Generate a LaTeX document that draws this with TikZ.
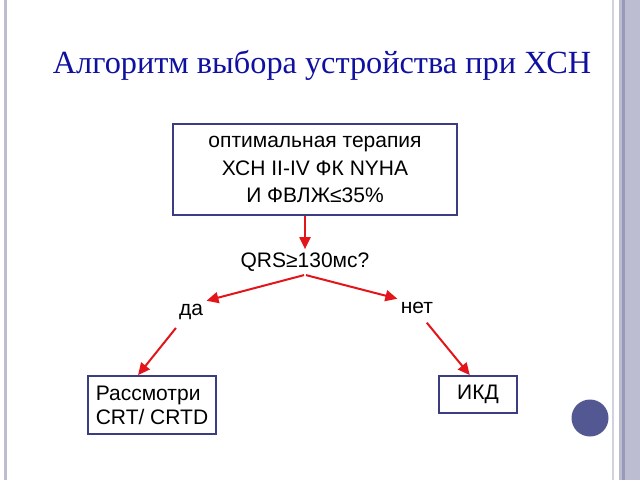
\documentclass[tikz,border=0pt]{standalone}
\usepackage{fontspec}
\setmainfont{Liberation Sans}
\newfontfamily\titlefont{Liberation Serif}
\usetikzlibrary{arrows.meta}

\definecolor{titleblue}{HTML}{1010A0}
\definecolor{boxnavy}{HTML}{3C3C80}
\definecolor{arrowred}{HTML}{E3151B}
\definecolor{barlav}{HTML}{BDBDD2}
\definecolor{bardark}{HTML}{9A9AB8}
\definecolor{dotblue}{HTML}{545892}

\tikzset{
  stepbox/.style={draw=boxnavy, line width=1.8pt, inner sep=5pt},
  flow/.style={draw=arrowred, line width=2pt, -{Triangle[length=12pt,width=11pt]}}
}

\begin{document}
\begin{tikzpicture}[x=1pt,y=-1pt]
  \useasboundingbox (0,0) rectangle (640,480);

  % slide frame
  \fill[barlav] (4,0) rectangle (7,480);
  \fill[barlav!70] (612,0) rectangle (614,480);
  \fill[barlav] (619,0) rectangle (640,480);
  \fill[bardark] (622,0) rectangle (625,480);
  \fill[dotblue] (590,418) circle (18.5);

  \node[font=\titlefont\fontsize{32.3}{37}\selectfont, text=titleblue, anchor=base] (title) at (322,73) {Алгоритм выбора устройства при ХСН};

  \begin{scope}[every node/.style={font=\fontsize{21}{27.5}\selectfont}]
    \node[stepbox, minimum width=284pt, minimum height=91pt, align=center] (therapy) at (315,169.5)
      {оптимальная терапия\\ХСН II-IV ФК NYHA\\И ФВЛЖ≤35\%};
    \node (qrs) at (305,262) {QRS≥130мс?};
    \node (yes) at (191,312) {да};
    \node (no)  at (417,308) {нет};
    \node[stepbox, minimum width=128pt, minimum height=58pt, align=left, font=\fontsize{21}{24}\selectfont] (crt) at (152,405)
      {Рассмотри\\CRT/ CRTD};
    \node[stepbox, minimum width=78pt, minimum height=37pt] (icd) at (478,394.5) {ИКД};
  \end{scope}

  \begin{scope}[every edge/.style={flow}]
    \path (therapy.south -| qrs.north) edge (qrs.north);
    \path (qrs.south) edge[shorten <=1pt] (yes.north east);
    \path (qrs.south) edge[shorten <=1pt] (no.north west);
    \path (yes.-135) edge[shorten <=6pt] (crt.115);
    \path (no.-60)   edge[shorten <=7pt] (icd.113);
  \end{scope}

\end{tikzpicture}
\end{document}
